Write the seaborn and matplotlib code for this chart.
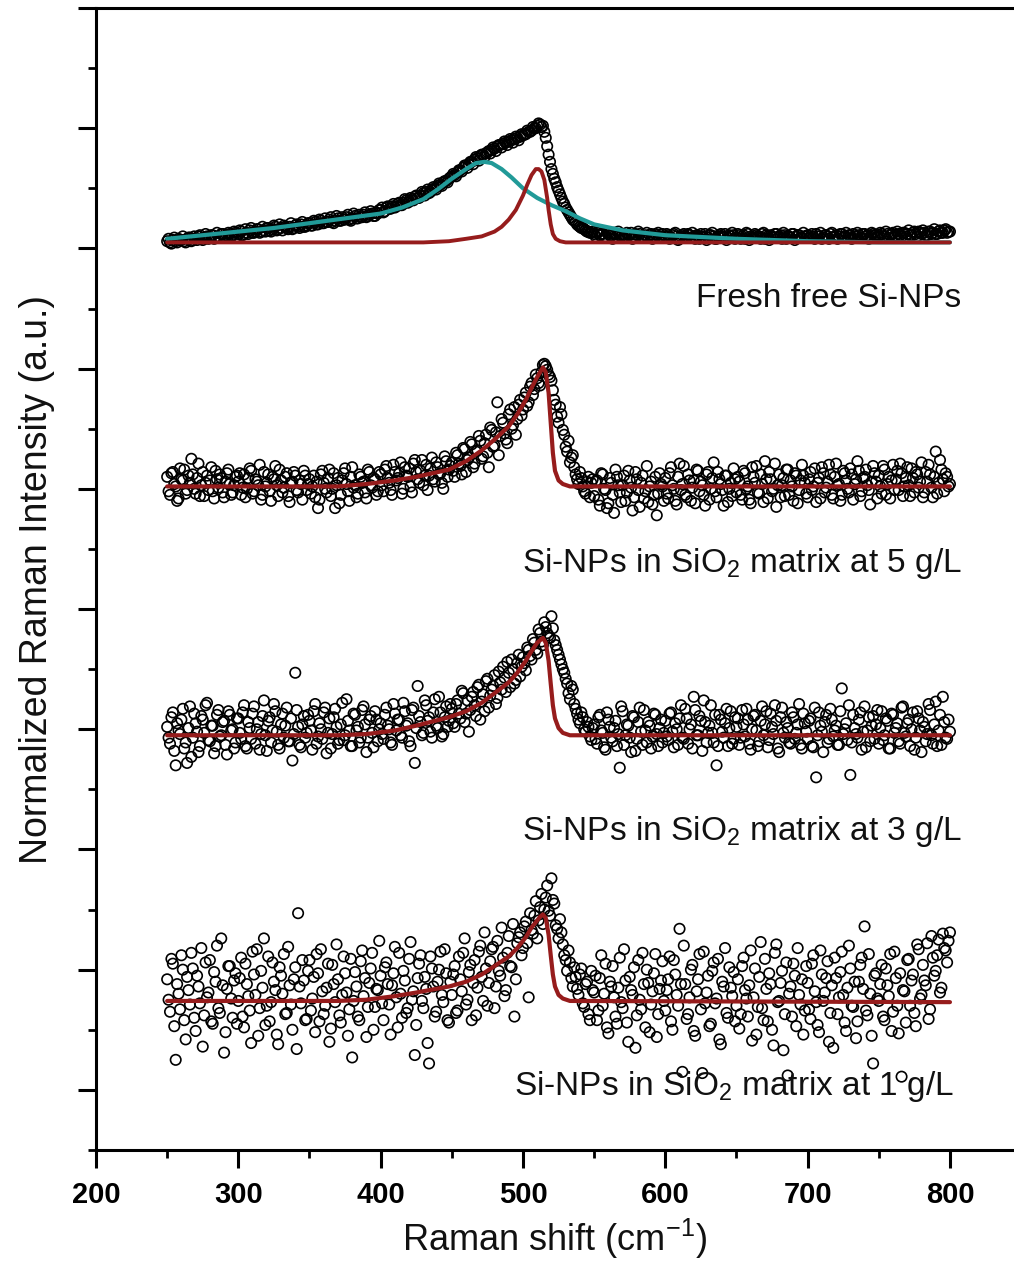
import numpy as np
import pandas as pd
import seaborn as sns
import matplotlib.pyplot as plt
from matplotlib.ticker import MultipleLocator, NullFormatter

# Raman shift sampling of the measured spectra (cm-1)
SHIFT_EVEN = np.arange(250, 802, 2)
SHIFT_ODD = np.arange(251, 801, 2)

FRESH = [
    7.06, 7.05, 7.07, 7.06, 7.08, 7.07, 7.06, 7.08, 7.09, 7.07, 7.08, 7.10, 7.08, 7.09, 7.10, 7.09, 7.11, 7.09, 7.10, 7.12, 7.10, 7.11, 7.12, 7.11, 7.13,
    7.12, 7.14, 7.12, 7.13, 7.15, 7.13, 7.14, 7.16, 7.14, 7.15, 7.17, 7.15, 7.16, 7.18, 7.16, 7.17, 7.19, 7.17, 7.18, 7.16, 7.19, 7.18, 7.20, 7.18, 7.19,
    7.21, 7.19, 7.22, 7.20, 7.23, 7.21, 7.22, 7.24, 7.22, 7.23, 7.25, 7.23, 7.24, 7.26, 7.24, 7.25, 7.27, 7.25, 7.26, 7.28, 7.26, 7.28, 7.29, 7.27, 7.29,
    7.32, 7.30, 7.34, 7.33, 7.35, 7.34, 7.37, 7.36, 7.38, 7.40, 7.39, 7.41, 7.43, 7.42, 7.44, 7.46, 7.47, 7.46, 7.49, 7.50, 7.52, 7.53, 7.55, 7.56, 7.58,
    7.60, 7.61, 7.63, 7.65, 7.67, 7.69, 7.70, 7.72, 7.74, 7.75, 7.77, 7.78, 7.79, 7.81, 7.82, 7.83, 7.85, 7.86, 7.87, 7.88, 7.89, 7.90, 7.91, 7.92, 7.93,
    7.94, 7.95, 7.97, 7.98, 8.00, 8.02, 8.03, 8.02, 7.92, 7.78, 7.66, 7.58, 7.51, 7.45, 7.39, 7.34, 7.30, 7.26, 7.23, 7.20, 7.18, 7.17, 7.15, 7.14, 7.13,
    7.12, 7.13, 7.11, 7.12, 7.10, 7.12, 7.11, 7.13, 7.10, 7.11, 7.12, 7.10, 7.11, 7.13, 7.09, 7.11, 7.12, 7.10, 7.11, 7.09, 7.12, 7.10, 7.11, 7.09, 7.12,
    7.10, 7.11, 7.09, 7.12, 7.10, 7.08, 7.11, 7.10, 7.12, 7.09, 7.10, 7.11, 7.08, 7.10, 7.12, 7.09, 7.11, 7.10, 7.08, 7.11, 7.10, 7.12, 7.09, 7.10, 7.11,
    7.09, 7.11, 7.10, 7.08, 7.12, 7.10, 7.09, 7.11, 7.10, 7.12, 7.08, 7.10, 7.11, 7.09, 7.12, 7.10, 7.08, 7.11, 7.10, 7.09, 7.12, 7.10, 7.11, 7.09, 7.10,
    7.11, 7.09, 7.10, 7.12, 7.10, 7.08, 7.11, 7.10, 7.12, 7.09, 7.11, 7.10, 7.12, 7.10, 7.09, 7.11, 7.12, 7.10, 7.11, 7.09, 7.12, 7.11, 7.10, 7.12, 7.11,
    7.11, 7.12, 7.10, 7.12, 7.11, 7.13, 7.11, 7.12, 7.10, 7.13, 7.12, 7.11, 7.13, 7.12, 7.14, 7.12, 7.13, 7.11, 7.14, 7.13, 7.12, 7.14, 7.13, 7.15, 7.13,
    7.14,
]
FRESH_ODD = [
    7.08, 7.04, 7.09, 7.05, 7.07, 7.10, 7.05, 7.09, 7.06, 7.10, 7.07, 7.11, 7.07, 7.12, 7.08, 7.11, 7.08, 7.13, 7.09, 7.12, 7.09, 7.13, 7.10, 7.14, 7.10,
    7.15, 7.11, 7.16, 7.12, 7.17, 7.13, 7.16, 7.13, 7.18, 7.14, 7.17, 7.14, 7.19, 7.15, 7.20, 7.15, 7.18, 7.16, 7.21, 7.17, 7.20, 7.17, 7.22, 7.18, 7.21,
    7.19, 7.23, 7.20, 7.24, 7.21, 7.25, 7.22, 7.26, 7.21, 7.27, 7.23, 7.26, 7.24, 7.28, 7.23, 7.29, 7.25, 7.28, 7.26, 7.30, 7.27, 7.31, 7.27, 7.30, 7.32,
    7.34, 7.31, 7.35, 7.33, 7.37, 7.35, 7.38, 7.36, 7.41, 7.38, 7.42, 7.40, 7.44, 7.42, 7.47, 7.44, 7.49, 7.47, 7.51, 7.49, 7.54, 7.52, 7.56, 7.55, 7.59,
    7.62, 7.60, 7.65, 7.64, 7.69, 7.67, 7.72, 7.70, 7.76, 7.73, 7.78, 7.76, 7.80, 7.79, 7.84, 7.81, 7.86, 7.84, 7.89, 7.86, 7.91, 7.88, 7.93, 7.90, 7.95,
    7.95, 7.98, 7.97, 8.01, 8.00, 8.04, 8.01, 7.97, 7.85, 7.72, 7.62, 7.55, 7.48, 7.42, 7.37, 7.32, 7.28, 7.24, 7.22, 7.19, 7.17, 7.16, 7.14, 7.13, 7.14,
    7.10, 7.14, 7.12, 7.09, 7.13, 7.11, 7.08, 7.12, 7.14, 7.10, 7.09, 7.13, 7.11, 7.08, 7.12, 7.14, 7.10, 7.09, 7.13, 7.11, 7.08, 7.12, 7.13, 7.10, 7.09,
    7.12, 7.08, 7.11, 7.13, 7.07, 7.10, 7.12, 7.09, 7.11, 7.13, 7.08, 7.10, 7.12, 7.09, 7.07, 7.11, 7.13, 7.08, 7.10, 7.12, 7.09, 7.07, 7.11, 7.13, 7.08,
    7.12, 7.08, 7.11, 7.13, 7.07, 7.09, 7.12, 7.10, 7.08, 7.13, 7.11, 7.07, 7.10, 7.12, 7.09, 7.11, 7.13, 7.08, 7.10, 7.12, 7.07, 7.11, 7.09, 7.13, 7.10,
    7.09, 7.12, 7.08, 7.10, 7.13, 7.09, 7.11, 7.08, 7.13, 7.10, 7.08, 7.12, 7.09, 7.13, 7.11, 7.08, 7.10, 7.13, 7.09, 7.12, 7.10, 7.08, 7.13, 7.11, 7.09,
    7.13, 7.10, 7.14, 7.09, 7.12, 7.10, 7.14, 7.11, 7.13, 7.10, 7.15, 7.11, 7.14, 7.10, 7.13, 7.15, 7.11, 7.14, 7.12, 7.16, 7.12, 7.15, 7.13, 7.16, 7.14,
]
SIO2_5 = [
    5.10, 4.95, 5.14, 5.02, 4.92, 5.08, 5.16, 4.99, 5.05, 5.12, 4.96, 5.21, 5.03, 4.94, 5.11, 5.07, 4.98, 5.15, 5.01, 5.09, 4.93, 5.13, 5.04, 4.97, 5.10,
    5.06, 4.95, 5.12, 5.00, 5.17, 4.96, 5.08, 5.03, 4.91, 5.14, 5.05, 4.98, 5.10, 5.19, 4.94, 5.07, 5.01, 5.13, 4.89, 5.06, 5.11, 4.97, 5.04, 5.15, 4.99,
    5.08, 5.02, 4.93, 4.84, 5.12, 5.05, 4.97, 5.16, 5.00, 4.84, 5.09, 4.95, 5.13, 5.04, 4.90, 5.18, 5.03, 4.96, 5.10, 5.06, 4.92, 5.14, 5.01, 5.08, 4.98,
    5.12, 4.98, 5.19, 5.05, 4.95, 5.14, 5.09, 5.22, 5.00, 5.11, 5.17, 4.97, 5.24, 5.08, 5.15, 5.03, 5.20, 5.11, 5.26, 5.06, 5.18, 5.13, 5.00, 5.23, 5.16,
    5.22, 5.10, 5.28, 5.19, 5.34, 5.14, 5.26, 5.37, 5.21, 5.32, 5.40, 5.27, 5.45, 5.18, 5.49, 5.36, 5.72, 5.44, 5.55, 5.41, 5.62, 5.50, 5.68, 5.58, 5.74,
    5.66, 5.80, 5.72, 5.88, 5.83, 5.92, 5.86, 6.03, 6.02, 5.95, 5.90, 5.74, 5.60, 5.68, 5.49, 5.35, 5.40, 5.26, 5.18, 5.08, 5.14, 5.02, 4.96, 5.10, 5.05,
    4.94, 5.07, 4.86, 5.12, 4.99, 4.88, 5.05, 4.80, 5.10, 4.97, 5.03, 4.90, 5.15, 5.01, 4.93, 5.08, 4.85, 5.11, 4.98, 4.89, 5.06, 4.95, 4.78, 5.13, 5.02,
    5.09, 4.92, 5.18, 5.00, 4.87, 5.21, 5.04, 4.95, 5.12, 4.90, 5.07, 5.16, 4.98, 5.03, 4.86, 5.14, 5.00, 5.22, 4.93, 5.08, 4.99, 5.11, 4.89, 5.05, 5.17,
    4.97, 5.06, 4.91, 5.13, 5.02, 4.88, 5.10, 5.19, 4.96, 5.04, 5.23, 4.92, 5.08, 5.00, 4.85, 5.12, 5.03, 4.94, 5.16, 5.07, 4.90, 5.11, 4.99, 5.20, 5.05,
    4.93, 5.14, 5.02, 4.89, 5.09, 5.18, 4.97, 5.06, 5.12, 4.92, 5.21, 5.04, 4.95, 5.13, 5.00, 5.17, 4.91, 5.08, 5.15, 4.98, 5.10, 5.03, 4.87, 5.19, 5.06,
    5.11, 4.96, 5.16, 5.04, 4.92, 5.20, 5.08, 4.99, 5.13, 5.02, 5.18, 4.94, 5.09, 5.14, 5.01, 5.22, 4.97, 5.06, 5.12, 4.93, 5.31, 5.05, 5.16, 4.98, 5.10,
    5.04,
]
SIO2_5_ODD = [
    4.98, 5.13, 5.04, 4.90, 5.17, 5.07, 4.96, 5.11, 5.25, 5.00, 5.09, 4.94, 5.14, 5.05, 4.99, 5.18, 4.92, 5.08, 5.12, 4.97, 5.06, 5.16, 4.95, 5.03, 5.11,
    5.13, 5.01, 4.93, 5.09, 5.15, 4.98, 5.06, 5.20, 4.95, 5.02, 5.12, 4.90, 5.08, 5.03, 5.16, 4.97, 5.10, 4.94, 5.05, 5.14, 4.99, 5.07, 4.91, 5.11, 5.04,
    4.96, 5.11, 5.06, 4.91, 5.15, 5.00, 5.09, 4.94, 5.13, 5.03, 4.88, 5.07, 5.17, 4.98, 5.10, 5.01, 4.93, 5.12, 5.05, 4.97, 5.16, 5.03, 5.09, 4.95, 5.14,
    5.03, 5.16, 5.09, 4.99, 5.20, 5.07, 5.13, 4.96, 5.18, 5.10, 5.02, 5.21, 5.14, 5.05, 5.24, 5.11, 4.99, 5.17, 5.08, 5.22, 5.12, 5.05, 5.27, 5.10, 5.19,
    5.15, 5.30, 5.21, 5.12, 5.33, 5.24, 5.39, 5.18, 5.31, 5.44, 5.25, 5.38, 5.30, 5.51, 5.35, 5.47, 5.28, 5.58, 5.46, 5.38, 5.66, 5.53, 5.45, 5.70, 5.61,
    5.76, 5.69, 5.85, 5.78, 5.95, 5.88, 5.97, 6.04, 5.99, 5.93, 5.82, 5.70, 5.55, 5.62, 5.45, 5.31, 5.22, 5.28, 5.12, 5.04, 5.09, 4.98, 5.06, 4.93, 5.08,
    5.06, 4.91, 5.13, 5.00, 4.84, 5.09, 4.95, 5.16, 5.03, 4.89, 5.11, 4.97, 5.07, 4.82, 5.14, 4.99, 5.05, 4.92, 5.19, 5.02, 4.87, 5.10, 4.96, 5.04, 4.90,
    4.96, 5.13, 5.03, 4.90, 5.10, 4.99, 5.19, 4.93, 5.07, 5.01, 4.88, 5.15, 5.06, 4.95, 5.12, 4.91, 5.09, 4.98, 5.14, 5.04, 4.86, 5.11, 5.00, 4.94, 5.08,
    5.10, 4.95, 5.15, 5.00, 4.91, 5.18, 5.05, 4.97, 5.12, 4.89, 5.08, 5.14, 4.98, 5.21, 5.03, 4.93, 5.09, 5.16, 4.95, 5.02, 5.13, 4.88, 5.07, 5.11, 4.96,
    5.08, 4.99, 5.17, 5.05, 4.92, 5.13, 5.01, 5.20, 4.95, 5.10, 5.03, 4.90, 5.15, 5.07, 4.97, 5.12, 5.04, 5.23, 4.94, 5.09, 5.16, 4.99, 5.06, 5.13, 4.92,
    5.02, 5.19, 4.95, 5.10, 5.07, 4.99, 5.15, 5.21, 4.94, 5.09, 5.03, 5.17, 4.97, 5.12, 5.06, 4.93, 5.14, 5.20, 5.01, 5.10, 4.96, 5.24, 5.08, 5.13, 5.02,
]
SIO2_3 = [
    3.02, 2.88, 3.14, 2.70, 2.99, 3.08, 2.84, 2.72, 3.19, 2.93, 3.05, 2.81, 3.11, 2.97, 3.22, 2.90, 3.03, 2.86, 3.16, 2.95, 3.07, 2.79, 3.12, 3.00, 2.89,
    3.09, 2.92, 3.20, 2.84, 3.01, 3.13, 2.88, 3.06, 2.96, 3.24, 2.82, 3.10, 2.99, 3.15, 2.87, 3.04, 2.93, 3.18, 2.90, 2.74, 3.47, 3.02, 2.85, 3.11, 2.97,
    3.07, 2.83, 3.21, 2.94, 3.00, 3.14, 2.80, 3.09, 2.96, 3.17, 2.88, 3.04, 2.91, 3.25, 2.99, 2.86, 3.12, 3.02, 2.93, 3.19, 2.81, 3.08, 2.97, 3.15, 2.90,
    3.05, 2.92, 3.18, 3.00, 2.87, 3.13, 3.08, 2.95, 3.22, 3.03, 2.90, 3.16, 2.72, 3.36, 3.06, 2.97, 3.20, 3.10, 2.93, 3.25, 3.01, 3.14, 2.96, 3.19, 3.07,
    3.17, 3.02, 3.24, 3.09, 3.30, 3.13, 2.98, 3.27, 3.20, 3.35, 3.08, 3.29, 3.40, 3.18, 3.33, 3.45, 3.26, 3.39, 3.52, 3.31, 3.47, 3.58, 3.38, 3.55, 3.44,
    3.60, 3.49, 3.66, 3.58, 3.72, 3.63, 3.80, 3.70, 3.85, 3.78, 3.94, 3.74, 3.66, 3.58, 3.50, 3.42, 3.30, 3.36, 3.21, 3.13, 3.05, 3.10, 2.98, 3.02, 2.91,
    3.04, 2.88, 3.12, 2.97, 2.83, 3.08, 2.93, 3.01, 2.86, 2.68, 3.15, 2.95, 3.03, 2.81, 3.10, 2.92, 3.18, 2.87, 2.99, 3.06, 2.84, 3.13, 2.96, 3.01, 2.89,
    3.07, 2.91, 3.14, 2.85, 3.00, 3.09, 2.93, 3.17, 2.88, 3.04, 3.27, 2.95, 3.11, 2.82, 3.06, 2.97, 3.20, 2.89, 2.70, 3.12, 2.98, 3.05, 2.86, 3.15, 2.92,
    3.02, 2.87, 3.16, 2.94, 3.08, 2.83, 3.11, 2.99, 2.90, 3.19, 3.04, 2.85, 3.13, 2.96, 3.07, 2.81, 3.18, 2.93, 3.01, 2.88, 3.10, 2.97, 3.21, 2.84, 3.05,
    2.92, 3.09, 2.85, 2.60, 3.14, 2.98, 3.06, 2.89, 3.17, 2.94, 3.03, 2.87, 3.34, 3.00, 2.91, 2.62, 3.12, 2.96, 3.08, 2.83, 3.19, 2.99, 2.90, 3.11, 3.04,
    2.88, 3.15, 2.95, 3.07, 2.84, 3.12, 3.01, 2.90, 3.18, 2.97, 3.05, 2.86, 3.14, 2.93, 3.09, 2.81, 3.02, 2.96, 3.16, 2.88, 3.23, 2.99, 2.87, 3.06, 2.92,
    2.98,
]
SIO2_3_ODD = [
    2.93, 3.10, 2.82, 3.05, 2.96, 3.17, 2.89, 3.01, 2.77, 3.13, 2.98, 2.86, 3.08, 3.20, 2.91, 3.03, 2.80, 3.12, 2.94, 3.06, 2.87, 3.15, 2.99, 2.84, 3.09,
    2.97, 3.14, 2.86, 3.06, 2.92, 3.19, 3.00, 2.83, 3.11, 2.95, 3.07, 2.89, 3.21, 2.98, 2.84, 3.13, 3.03, 2.90, 3.09, 2.96, 3.16, 2.87, 3.04, 2.93, 3.12,
    2.99, 3.15, 2.88, 3.05, 2.92, 3.18, 2.97, 2.84, 3.10, 3.02, 2.91, 3.22, 2.95, 3.07, 2.86, 3.13, 2.99, 2.89, 3.16, 3.04, 2.93, 3.11, 2.85, 3.08, 3.00,
    2.96, 3.12, 3.03, 2.89, 3.21, 2.99, 3.08, 2.93, 3.15, 3.05, 2.86, 3.18, 3.01, 3.11, 2.95, 3.24, 3.07, 2.98, 3.14, 3.03, 3.27, 2.94, 3.10, 3.02, 3.21,
    3.05, 3.21, 3.13, 3.32, 3.06, 3.24, 3.16, 3.31, 3.11, 3.37, 3.23, 3.15, 3.42, 3.28, 3.36, 3.21, 3.48, 3.33, 3.43, 3.56, 3.35, 3.50, 3.41, 3.62, 3.52,
    3.55, 3.68, 3.61, 3.75, 3.66, 3.83, 3.73, 3.89, 3.80, 3.76, 3.84, 3.70, 3.62, 3.54, 3.47, 3.38, 3.25, 3.33, 3.17, 3.08, 3.14, 3.00, 3.06, 2.94, 3.01,
    2.92, 3.10, 2.99, 2.85, 3.14, 3.02, 2.90, 3.07, 2.96, 3.19, 2.87, 3.04, 2.93, 3.11, 2.82, 3.06, 2.98, 3.16, 2.89, 3.03, 2.94, 3.12, 2.86, 3.08, 2.97,
    2.94, 3.13, 2.98, 3.05, 2.87, 3.20, 2.92, 3.09, 3.00, 2.84, 3.16, 2.95, 3.07, 3.24, 2.89, 3.03, 2.97, 3.12, 2.86, 3.08, 2.93, 3.17, 3.01, 2.88, 3.10,
    3.09, 2.93, 3.04, 3.17, 2.88, 3.00, 3.12, 2.86, 3.07, 2.95, 3.15, 2.91, 3.02, 3.20, 2.84, 3.10, 2.97, 3.06, 2.89, 3.14, 2.92, 3.04, 2.87, 3.13, 2.98,
    3.07, 2.86, 3.18, 2.95, 3.03, 2.81, 3.12, 2.92, 3.08, 2.99, 2.87, 3.15, 2.96, 3.05, 3.20, 2.89, 3.01, 2.93, 3.14, 2.98, 2.85, 3.10, 3.03, 2.92, 3.16,
    3.01, 2.91, 3.09, 2.84, 3.13, 2.97, 3.05, 2.88, 3.19, 2.94, 3.08, 3.00, 2.83, 3.15, 2.99, 3.06, 2.90, 3.21, 2.95, 3.04, 2.86, 3.12, 3.27, 2.93, 3.08,
]
SIO2_1 = [
    0.92, 0.65, 1.05, 0.25, 0.80, 1.12, 0.58, 0.94, 0.71, 1.01, 0.49, 0.86, 1.18, 0.62, 0.77, 1.08, 0.55, 0.90, 0.68, 1.26, 0.31, 0.84, 1.03, 0.60, 0.97,
    0.74, 1.10, 0.52, 0.88, 0.66, 1.15, 0.79, 0.45, 0.99, 1.26, 0.70, 0.57, 1.06, 0.83, 0.38, 0.95, 1.13, 0.64, 0.87, 0.50, 1.02, 1.47, 0.72, 0.91, 0.59,
    1.08, 0.76, 0.48, 0.97, 1.17, 0.63, 0.85, 0.40, 1.04, 0.73, 0.92, 0.56, 1.11, 0.81, 0.67, 0.27, 0.98, 0.61, 1.07, 0.78, 0.44, 0.89, 1.14, 0.69, 0.83,
    0.95, 0.58, 1.06, 0.71, 0.87, 1.19, 0.52, 0.80, 0.99, 0.64, 1.09, 0.75, 0.29, 0.93, 1.12, 0.68, 0.84, 0.22, 1.01, 0.61, 0.90, 1.15, 0.73, 0.97, 0.56,
    0.79, 1.03, 0.66, 0.92, 1.14, 0.71, 0.98, 0.58, 1.08, 0.85, 1.20, 0.74, 1.01, 0.89, 1.17, 0.68, 1.24, 0.95, 1.10, 0.83, 1.28, 1.02, 0.61, 1.22, 1.31,
    1.18, 1.40, 0.77, 1.33, 1.45, 1.26, 1.52, 1.38, 1.60, 1.49, 1.76, 1.55, 1.34, 1.42, 1.21, 1.08, 1.16, 0.93, 1.02, 0.84, 0.96, 0.72, 0.88, 0.63, 0.99,
    0.81, 0.58, 0.93, 0.70, 1.05, 0.47, 0.86, 0.77, 0.55, 1.10, 0.68, 0.91, 0.40, 0.83, 1.02, 0.62, 0.75, 1.14, 0.52, 0.89, 0.71, 0.97, 0.44, 0.84, 1.07,
    0.66, 0.92, 0.57, 1.08, 0.79, 1.34, 0.15, 0.88, 0.63, 1.00, 0.49, 0.82, 1.13, 0.14, 0.72, 0.95, 0.55, 1.06, 0.76, 0.42, 0.90, 1.18, 0.60, 0.85, 0.98,
    0.70, 0.51, 1.03, 0.83, 0.61, 1.16, 0.77, 0.46, 0.94, 0.68, 1.09, 0.57, 0.88, 0.37, 1.21, 0.74, 0.99, 0.63, 0.12, 0.86, 1.05, 0.53, 0.79, 0.92, 0.66,
    0.89, 0.59, 1.12, 0.73, 0.48, 0.96, 0.81, 1.07, 0.64, 0.35, 0.93, 0.77, 1.15, 0.56, 0.85, 1.01, 0.69, 0.43, 0.90, 1.10, 1.36, 0.62, 0.80, 0.22, 0.97,
    0.74, 1.04, 0.58, 0.87, 1.13, 0.65, 0.93, 0.47, 0.11, 0.82, 1.08, 0.70, 0.96, 0.53, 1.17, 0.79, 0.91, 1.22, 0.67, 1.10, 0.99, 1.25, 0.85, 1.18, 1.06,
    1.31,
]
SIO2_1_ODD = [
    0.75, 1.09, 0.53, 0.88, 0.67, 1.00, 0.42, 0.83, 1.14, 0.60, 0.95, 0.72, 0.36, 1.06, 0.81, 0.57, 0.98, 1.20, 0.64, 0.87, 0.48, 1.03, 0.76, 0.91, 0.55,
    0.93, 0.61, 1.05, 0.78, 0.39, 0.96, 1.17, 0.68, 0.85, 0.54, 1.11, 0.73, 0.90, 0.46, 1.02, 0.80, 0.63, 1.19, 0.71, 0.92, 0.34, 0.86, 1.08, 0.58, 0.99,
    0.66, 0.94, 1.13, 0.57, 0.82, 0.70, 1.05, 0.51, 0.88, 1.21, 0.62, 0.79, 0.97, 0.45, 1.09, 0.74, 0.86, 0.58, 1.16, 0.93, 0.69, 1.01, 0.50, 0.84, 1.24,
    0.72, 1.02, 0.88, 0.46, 0.97, 0.77, 1.14, 0.60, 0.91, 0.68, 1.23, 0.82, 0.54, 1.05, 0.74, 0.94, 0.39, 1.11, 0.86, 0.65, 1.00, 0.79, 1.17, 0.58, 0.90,
    0.96, 0.64, 1.11, 0.82, 1.26, 0.75, 1.04, 0.89, 0.62, 1.15, 0.94, 1.31, 0.70, 1.07, 1.19, 0.86, 0.99, 1.35, 0.78, 1.14, 1.03, 1.38, 0.92, 1.27, 1.12,
    1.36, 1.22, 1.47, 1.30, 1.57, 1.41, 1.63, 1.50, 1.70, 1.45, 1.58, 1.37, 1.26, 1.31, 1.12, 0.99, 1.06, 0.86, 0.94, 0.79, 1.01, 0.69, 0.90, 0.58, 0.83,
    0.95, 0.66, 1.12, 0.80, 0.52, 0.90, 1.03, 0.61, 0.85, 0.73, 1.17, 0.56, 0.94, 0.79, 0.35, 1.08, 0.67, 0.88, 1.00, 0.48, 0.82, 1.13, 0.63, 0.91, 0.74,
    0.83, 1.11, 0.50, 0.96, 0.70, 0.88, 1.20, 0.59, 0.77, 1.04, 0.45, 0.92, 0.67, 1.15, 0.81, 0.53, 0.99, 0.72, 1.09, 0.38, 0.86, 0.64, 1.02, 0.78, 0.57,
    0.92, 0.63, 1.10, 0.76, 0.87, 0.41, 1.01, 0.69, 1.23, 0.58, 0.84, 0.97, 0.50, 1.14, 0.73, 0.89, 0.33, 1.06, 0.80, 0.61, 0.95, 1.18, 0.71, 0.46, 1.03,
    0.67, 1.05, 0.82, 0.54, 1.16, 0.74, 0.93, 0.40, 0.87, 1.10, 0.63, 0.98, 0.79, 0.49, 1.20, 0.70, 0.90, 0.57, 1.04, 0.84, 0.66, 1.13, 0.45, 0.95, 0.76,
    0.88, 0.61, 1.01, 0.78, 0.49, 1.15, 0.70, 0.97, 0.83, 0.56, 1.09, 0.91, 0.64, 1.21, 0.76, 1.04, 0.87, 0.59, 1.28, 0.95, 1.12, 0.81, 1.30, 1.16, 1.24,
]

# fitted components
FRESH_BROAD_X = [250, 275, 300, 325, 350, 375, 400, 415, 430, 440, 450, 460, 467, 473, 478, 485, 492, 500, 510, 520, 530, 540, 550, 570, 600, 650, 700, 750, 800]
FRESH_BROAD_Y = [7.08, 7.11, 7.14, 7.17, 7.21, 7.25, 7.29, 7.34, 7.41, 7.49, 7.58, 7.66, 7.71, 7.72, 7.71, 7.66, 7.59, 7.50, 7.42, 7.36, 7.31, 7.25, 7.20, 7.15, 7.11, 7.08, 7.06, 7.05, 7.05]
FRESH_FIT_X = [250, 400, 430, 448, 460, 471, 480, 485, 490, 495, 500, 503, 506, 509, 511, 513, 515, 517, 518, 519.5, 521, 523, 526, 530, 800]
FRESH_FIT_Y = [7.05, 7.05, 7.05, 7.06, 7.08, 7.10, 7.14, 7.18, 7.24, 7.32, 7.44, 7.53, 7.61, 7.66, 7.66, 7.64, 7.57, 7.42, 7.32, 7.20, 7.12, 7.08, 7.06, 7.05, 7.05]

FIT_X = [250, 370, 390, 410, 425, 448, 460, 471, 480, 490, 496, 502, 506, 510, 512, 514, 516, 518, 519.5, 521, 522.5, 525, 528, 533, 800]
FIT_5 = [5.02, 5.02, 5.04, 5.07, 5.10, 5.16, 5.23, 5.32, 5.41, 5.52, 5.62, 5.74, 5.84, 5.93, 5.97, 6.01, 5.97, 5.80, 5.55, 5.30, 5.15, 5.07, 5.04, 5.02, 5.02]
FIT_3 = [2.95, 2.95, 2.96, 2.99, 3.03, 3.10, 3.15, 3.22, 3.30, 3.39, 3.47, 3.57, 3.65, 3.72, 3.74, 3.76, 3.72, 3.57, 3.38, 3.20, 3.09, 3.01, 2.97, 2.95, 2.95]
FIT_1 = [0.74, 0.74, 0.75, 0.78, 0.81, 0.86, 0.90, 0.96, 1.03, 1.11, 1.18, 1.27, 1.35, 1.41, 1.44, 1.46, 1.43, 1.29, 1.12, 0.96, 0.86, 0.79, 0.76, 0.74, 0.73]

LABELS = ["Fresh free Si-NPs",
          "Si-NPs in SiO$_2$ matrix at 5 g/L",
          "Si-NPs in SiO$_2$ matrix at 3 g/L",
          "Si-NPs in SiO$_2$ matrix at 1 g/L"]
LABEL_X = [808, 808, 808, 803]
LABEL_Y = [6.51, 4.31, 2.08, -0.04]

RED = "#961c1c"
TEAL = "#219a98"

sns.set_style("ticks")
plt.rcParams['font.family'] = ['Liberation Sans', 'DejaVu Sans']
plt.rcParams['mathtext.fontset'] = 'custom'
plt.rcParams['mathtext.rm'] = 'Liberation Sans'
plt.rcParams['mathtext.it'] = 'Liberation Sans:italic'
plt.rcParams['mathtext.bf'] = 'Liberation Sans:bold'

fig = plt.figure(figsize=(10.14, 12.66), dpi=100)
ax = fig.add_axes([96 / 1014, 116 / 1266, 918 / 1014, 1142 / 1266])

# measured points
spectra = [(FRESH, FRESH_ODD), (SIO2_5, SIO2_5_ODD), (SIO2_3, SIO2_3_ODD), (SIO2_1, SIO2_1_ODD)]
for even, odd in spectra:
    df = pd.DataFrame({"shift": np.concatenate([SHIFT_EVEN, SHIFT_ODD]),
                       "intensity": np.concatenate([even, odd])})
    sns.scatterplot(data=df, x="shift", y="intensity", ax=ax, marker="o", s=56,
                    facecolor="none", edgecolor="black", linewidth=1.2, zorder=2)

# fits
sns.lineplot(x=FRESH_BROAD_X, y=FRESH_BROAD_Y, ax=ax, color=TEAL, lw=3.0, estimator=None, zorder=3)
sns.lineplot(x=FRESH_FIT_X, y=FRESH_FIT_Y, ax=ax, color=RED, lw=2.8, estimator=None, zorder=3)
for fit in [FIT_5, FIT_3, FIT_1]:
    sns.lineplot(x=FIT_X, y=fit, ax=ax, color=RED, lw=3.0, estimator=None, zorder=3)

for label, lx, ly in zip(LABELS, LABEL_X, LABEL_Y):
    ax.text(lx, ly, label, ha="right", va="baseline", fontsize=24, color="#111111")

ax.set_xlim(200, 845)
ax.set_ylim(-0.5, 9.0)
ax.xaxis.set_major_locator(MultipleLocator(100))
ax.xaxis.set_minor_locator(MultipleLocator(50))
ax.yaxis.set_major_locator(MultipleLocator(1))
ax.yaxis.set_minor_locator(MultipleLocator(0.5))
ax.yaxis.set_major_formatter(NullFormatter())

ax.tick_params(axis="both", which="major", length=13, width=2.2, color="black")
ax.tick_params(axis="both", which="minor", length=6, width=2.0, color="black")
ax.tick_params(axis="x", which="major", pad=9, labelcolor="black")
for lab in ax.get_xticklabels():
    lab.set_fontweight("bold")
    lab.set_fontsize(21)

ax.spines["right"].set_visible(False)
for side in ["left", "bottom", "top"]:
    ax.spines[side].set_linewidth(2.2)
    ax.spines[side].set_color("black")

ax.set_xlabel("Raman shift (cm$^{-1}$)", fontsize=26, labelpad=6, color="#111111")
ax.set_ylabel("Normalized Raman Intensity (a.u.)", fontsize=27, labelpad=13, color="#111111")

fig.savefig("out.png", dpi=100)
